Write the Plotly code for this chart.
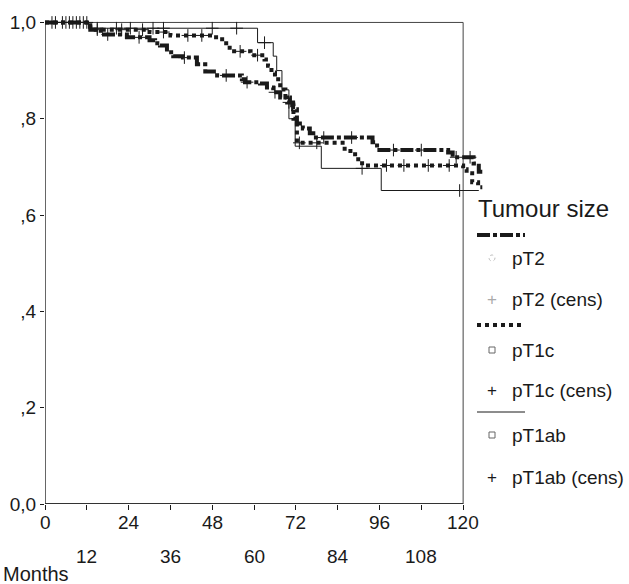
import numpy as np
import plotly.graph_objects as go

# ---------------- data ----------------
pT2_t = [0, 13, 16, 23.5, 30, 31.6, 33, 35, 36.8, 39.6, 43.6, 46, 49.4, 56.5, 57.4, 61.7,
         63.7, 65.5, 67.5, 69.5, 71.2, 72.3, 74, 76, 77, 94, 95.3, 115.7, 117, 123, 124.5, 125.5]
pT2_s = [1.0, 0.985, 0.975, 0.969, 0.963, 0.957, 0.952, 0.938, 0.93, 0.927, 0.913, 0.898, 0.89,
         0.882, 0.876, 0.873, 0.865, 0.855, 0.844, 0.834, 0.82, 0.79, 0.78, 0.77, 0.761, 0.751,
         0.735, 0.73, 0.72, 0.707, 0.69, 0.69]
pT2_cens = [5, 8, 11, 18, 27, 40, 52, 58, 66, 70, 80, 88, 100, 108, 118, 122]

pT1c_t = [0, 13, 30, 36, 48, 50, 52, 53, 59, 63, 64, 65, 66, 67.5, 69, 70.3, 71.3, 72.3,
          86, 89, 91, 120, 121, 122.6, 124.3, 125.5]
pT1c_s = [1.0, 0.985, 0.98, 0.973, 0.969, 0.965, 0.952, 0.94, 0.932, 0.923, 0.91, 0.896, 0.882,
          0.861, 0.844, 0.828, 0.80, 0.75, 0.733, 0.716, 0.703, 0.695, 0.687, 0.668, 0.658, 0.658]
pT1c_cens = [3, 6, 9, 12, 15, 22, 28, 34, 41, 45, 56, 61, 73, 78, 98, 103, 110, 116]

pT1ab_t = [0, 12.5, 61, 65.5, 66.5, 68, 70, 71.8, 79.3, 96.5, 124.5]
pT1ab_s = [1.0, 0.988, 0.958, 0.93, 0.90, 0.86, 0.80, 0.743, 0.697, 0.651, 0.651]
pT1ab_cens = [2, 7, 10, 15, 20.5, 24.5, 31, 34, 48, 55, 63, 91, 119]

y_ticks = [0.0, 0.2, 0.4, 0.6, 0.8, 1.0]
y_labels = ["0,0", ",2", ",4", ",6", ",8", "1,0"]
x_ticks_row1 = [0, 24, 48, 72, 96, 120]
x_ticks_row2 = [12, 36, 60, 84, 108]

legend_title = "Tumour size"
legend_names = ["pT2", "pT2 (cens)", "pT1c", "pT1c (cens)", "pT1ab", "pT1ab (cens)"]

# ---------------- layout geometry ----------------
W, H = 629, 584
L, R, T, B = 45, 138, 8, 80
XMAX, YMAX = 128, 1.03
INK = "#1a1a1a"
FONT = "Liberation Sans, Arial, sans-serif"
TICK_SIZE = 19

def px(x):  # pixel -> paper x
    return (x - L) / (W - L - R)

def py(y):  # pixel -> paper y
    return (H - B - y) / (H - T - B)

def surv_at(ts, ss, c):
    idx = np.searchsorted(np.array(ts), c, side="right") - 1
    return [ss[i] for i in idx]

styles = {
    "pT2": dict(width=4, dash="13px,3px,4px,3px"),
    "pT1c": dict(width=4, dash="4px,4px"),
    "pT1ab": dict(width=1, dash="solid"),
}

fig = go.Figure()
series = [("pT2", pT2_t, pT2_s, pT2_cens),
          ("pT1c", pT1c_t, pT1c_s, pT1c_cens),
          ("pT1ab", pT1ab_t, pT1ab_s, pT1ab_cens)]
for name, ts, ss, cens in series:
    st = styles[name]
    fig.add_trace(go.Scatter(x=ts, y=ss, mode="lines", name=name, showlegend=False,
                             line=dict(color=INK, width=st["width"], dash=st["dash"], shape="hv")))
    fig.add_trace(go.Scatter(x=cens, y=surv_at(ts, ss, cens), mode="markers",
                             name=name + " (cens)", showlegend=False, cliponaxis=False,
                             marker=dict(symbol="cross-thin", size=9,
                                         line=dict(width=1, color=INK))))

shapes = [
    dict(type="line", xref="x", yref="y", x0=0, x1=120, y0=1, y1=1,
         line=dict(color="#444", width=1), layer="below"),
    dict(type="line", xref="x", yref="y", x0=120, x1=120, y0=0, y1=1,
         line=dict(color="#444", width=1), layer="below"),
    dict(type="line", xref="x", yref="y", x0=0, x1=0, y0=0, y1=1,
         line=dict(color="#333", width=1.5), layer="below"),
    dict(type="line", xref="x", yref="y", x0=0, x1=120, y0=0, y1=0,
         line=dict(color="#333", width=2), layer="below"),
]

annotations = []
for v in x_ticks_row1:
    annotations.append(dict(x=v, xref="x", y=py(522), yref="paper", text=str(v),
                            showarrow=False, font=dict(size=TICK_SIZE, color=INK, family=FONT),
                            xanchor="center", yanchor="middle"))
for v in x_ticks_row2:
    annotations.append(dict(x=v, xref="x", y=py(556), yref="paper", text=str(v),
                            showarrow=False, font=dict(size=TICK_SIZE, color=INK, family=FONT),
                            xanchor="center", yanchor="middle"))
annotations.append(dict(x=px(1), xref="paper", y=py(574), yref="paper", text="Months",
                        showarrow=False, font=dict(size=20, color=INK, family=FONT),
                        xanchor="left", yanchor="middle"))

# ---- legend drawn by hand ----
annotations.append(dict(x=px(476), xref="paper", y=py(208), yref="paper", text=legend_title,
                        showarrow=False, font=dict(size=24, color=INK, family=FONT),
                        xanchor="left", yanchor="middle"))
group_y = [235, 325, 412]
item_y = [258, 350, 435]
cens_y = [299, 390, 477]
for g, (name, _, _, _) in enumerate(series):
    st = styles[name]
    shapes.append(dict(type="line", xref="paper", yref="paper", x0=px(477), x1=px(525),
                       y0=py(group_y[g]), y1=py(group_y[g]),
                       line=dict(color=INK, width=st["width"], dash=st["dash"])))
    if g == 0:
        shapes.append(dict(type="circle", xref="paper", yref="paper",
                           x0=px(489), x1=px(495), y0=py(item_y[g] + 3), y1=py(item_y[g] - 3),
                           line=dict(color="#bbb", width=1, dash="dot")))
    else:
        shapes.append(dict(type="rect", xref="paper", yref="paper",
                           x0=px(489), x1=px(495), y0=py(item_y[g] + 3), y1=py(item_y[g] - 3),
                           line=dict(color="#666", width=1)))
    annotations.append(dict(x=px(510), xref="paper", y=py(item_y[g]), yref="paper",
                            text=legend_names[2 * g], showarrow=False,
                            font=dict(size=19, color=INK, family=FONT),
                            xanchor="left", yanchor="middle"))
    annotations.append(dict(x=px(492), xref="paper", y=py(cens_y[g]), yref="paper",
                            text="+", showarrow=False,
                            font=dict(size=17, color="#aaa" if g == 0 else INK, family=FONT),
                            xanchor="center", yanchor="middle"))
    annotations.append(dict(x=px(510), xref="paper", y=py(cens_y[g]), yref="paper",
                            text=legend_names[2 * g + 1], showarrow=False,
                            font=dict(size=19, color=INK, family=FONT),
                            xanchor="left", yanchor="middle"))

fig.update_layout(
    width=W, height=H, margin=dict(l=L, r=R, t=T, b=B),
    paper_bgcolor="white", plot_bgcolor="white",
    font=dict(family=FONT, color=INK, size=TICK_SIZE),
    shapes=shapes, annotations=annotations, showlegend=False,
    xaxis=dict(range=[0, XMAX], tickvals=x_ticks_row2 + x_ticks_row1,
               ticktext=[""] * (len(x_ticks_row2) + len(x_ticks_row1)),
               ticks="outside", ticklen=5, tickcolor=INK, showgrid=False, zeroline=False,
               showline=False, tickfont=dict(size=TICK_SIZE, color=INK)),
    yaxis=dict(range=[0, YMAX], tickvals=y_ticks, ticktext=y_labels,
               ticks="outside", ticklen=4, tickcolor=INK, showgrid=False, zeroline=False,
               showline=False, tickfont=dict(size=TICK_SIZE, color=INK)),
)

fig.write_html("out.html")
